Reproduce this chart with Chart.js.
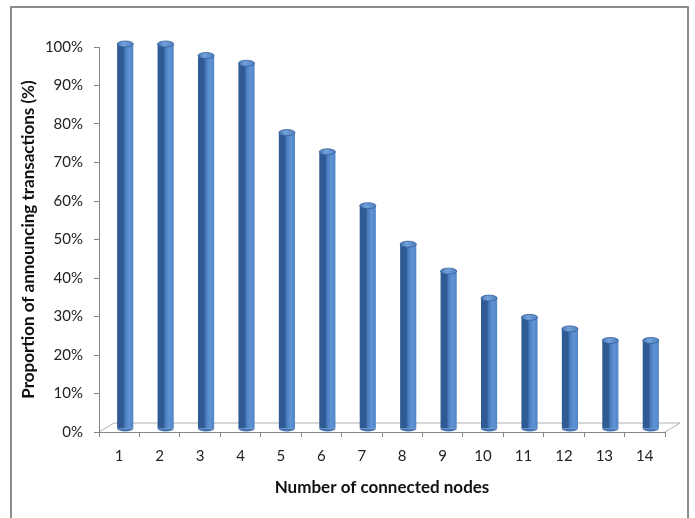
<!DOCTYPE html>
<html>
<head>
<meta charset="utf-8">
<script src="https://cdn.jsdelivr.net/npm/chart.js@4"></script>
<style>
  html, body { margin: 0; padding: 0; background: #fff; }
  #wrap { position: relative; width: 695px; height: 518px; }
</style>
</head>
<body>
<div id="wrap"><canvas id="chart"></canvas></div>
<script>
// data
const nodes = ["1", "2", "3", "4", "5", "6", "7", "8", "9", "10", "11", "12", "13", "14"];
const proportion = [100, 100, 97, 95, 77, 72, 58, 48, 41, 34, 29, 26, 23, 23];
const yTicks = [0, 10, 20, 30, 40, 50, 60, 70, 80, 90, 100];

const FONT = "Lato, 'Open Sans', sans-serif";
const GRAY = "#868686";
const DEPTH_X = 6, DEPTH_Y = -3;
const CAT_PCT = 0.8, BAR_PCT = 0.5;

// cylinder body colour, horizontal gradient per bar
function cylinderFill(context) {
    const chart = context.chart;
    const xs = chart.scales.x;
    if (!chart.chartArea || !xs || context.dataIndex === undefined) return "#4f81bd";
    const cx = xs.getPixelForValue(context.dataIndex) + DEPTH_X;
    const w = chart.chartArea.width / nodes.length * CAT_PCT * BAR_PCT;
    const g = chart.ctx.createLinearGradient(cx - w / 2, 0, cx + w / 2, 0);
    g.addColorStop(0, "#2f5a94");
    g.addColorStop(0.12, "#4a7dbd");
    g.addColorStop(0.35, "#5f93d5");
    g.addColorStop(0.7, "#4f82c2");
    g.addColorStop(1, "#345f9a");
    return g;
}

// frame + 3D floor behind the bars
const backdrop = {
    id: "backdrop",
    beforeDraw(chart) {
        const ctx = chart.ctx;
        const a = chart.chartArea;
        ctx.save();
        ctx.strokeStyle = "#8c8c8c";
        ctx.lineWidth = 2;
        ctx.strokeRect(11, 7, 677, 540);

        ctx.strokeStyle = "#b0b0b0";
        ctx.lineWidth = 1;
        const dx = 15, dy = -9;
        ctx.beginPath();
        ctx.moveTo(a.left, a.bottom);
        ctx.lineTo(a.left + dx, a.bottom + dy);
        ctx.lineTo(a.right + dx, a.bottom + dy);
        ctx.lineTo(a.right, a.bottom);
        ctx.stroke();
        ctx.restore();
    },
    beforeDatasetsDraw(chart) {
        chart.ctx.save();
        chart.ctx.translate(DEPTH_X, DEPTH_Y);
    },
    afterDatasetsDraw(chart) {
        const ctx = chart.ctx;
        const meta = chart.getDatasetMeta(0);
        // elliptic caps of each cylinder
        meta.data.forEach(bar => {
            const w = bar.width / 2;
            const h = 3;
            ctx.beginPath();
            ctx.ellipse(bar.x, bar.base, w, h, 0, 0, Math.PI);
            ctx.fillStyle = "#4274b3";
            ctx.fill();
            ctx.beginPath();
            ctx.ellipse(bar.x, bar.y, w, h, 0, 0, Math.PI * 2);
            const g = ctx.createLinearGradient(bar.x - w, 0, bar.x + w, 0);
            g.addColorStop(0, "#4676b4");
            g.addColorStop(0.4, "#72a0da");
            g.addColorStop(1, "#4f80bf");
            ctx.fillStyle = g;
            ctx.fill();
            ctx.strokeStyle = "#345f9a";
            ctx.lineWidth = 0.8;
            ctx.stroke();
        });
        ctx.restore();
    }
};

new Chart(document.getElementById("chart"), {
    type: "bar",
    data: {
        labels: nodes,
        datasets: [{
            data: proportion,
            backgroundColor: cylinderFill,
            borderWidth: 0,
            categoryPercentage: CAT_PCT,
            barPercentage: BAR_PCT
        }]
    },
    options: {
        responsive: true,
        maintainAspectRatio: false,
        animation: false,
        layout: { padding: { left: 18, right: 30, top: 47, bottom: 20 } },
        plugins: {
            legend: { display: false },
            tooltip: { enabled: false }
        },
        scales: {
            x: {
                grid: { drawOnChartArea: false, color: GRAY, tickLength: 5 },
                border: { color: GRAY, width: 1 },
                ticks: { color: "#222", font: { family: FONT, size: 15 }, padding: 10 },
                title: {
                    display: true,
                    text: "Number of connected nodes",
                    color: "#111",
                    font: { family: FONT, size: 17, weight: "bold" },
                    padding: { top: 6, bottom: 0 }
                },
                afterFit(scale) { scale.height = 66; }
            },
            y: {
                min: 0,
                max: 100,
                afterBuildTicks(scale) { scale.ticks = yTicks.map(v => ({ value: v })); },
                grid: { drawOnChartArea: false, color: GRAY, tickLength: 5 },
                border: { color: GRAY, width: 1 },
                ticks: {
                    color: "#222",
                    font: { family: FONT, size: 15 },
                    padding: 11,
                    callback: v => v + "%"
                },
                title: {
                    display: true,
                    text: "Proportion of announcing transactions (%)",
                    color: "#111",
                    font: { family: FONT, size: 17, weight: "bold" },
                    padding: { top: 0, bottom: 0 }
                },
                afterFit(scale) { scale.width = 81; }
            }
        }
    },
    plugins: [backdrop]
});
</script>
</body>
</html>
